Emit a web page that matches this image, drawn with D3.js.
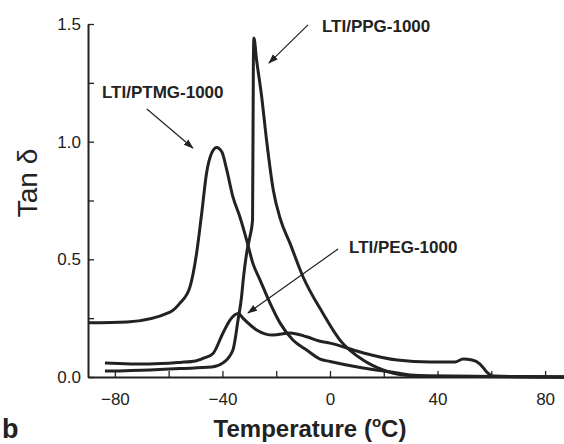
<!DOCTYPE html>
<html>
<head>
<meta charset="utf-8">
<script src="https://cdn.jsdelivr.net/npm/d3@7"></script>
<style>
  body { margin: 0; background: #fff; }
  svg { display: block; font-family: "Liberation Sans", Arial, sans-serif; }
  .axis path, .axis line { stroke: #222; }
  .axis text { fill: #222; font-size: 17px; }
</style>
</head>
<body>
<svg id="chart" width="564" height="444"></svg>
<script>
// temperature (°C) and tan delta
const ptmgT = [-89.7, -75.5, -59.5, -55.8, -52.1, -49.6, -47.7, -45.9, -44.3, -42.2, -40.2, -38.4, -36.1, -33.5, -31, -28.7, -26, -22.3, -18.6, -13.8, -8.7, -3.7, 0, 12.3, 25, 29.8, 37, 87];
const ptmgV = [0.23, 0.234, 0.276, 0.314, 0.382, 0.527, 0.697, 0.867, 0.943, 0.975, 0.956, 0.88, 0.765, 0.68, 0.582, 0.484, 0.412, 0.314, 0.23, 0.157, 0.115, 0.076, 0.066, 0.038, 0.017, 0.008, 0.004, 0];

const ppgT = [-83.7, -67, -55.8, -44, -39.8, -36.1, -34.2, -32.9, -32.3, -30.8, -29.8, -28.8, -28.5, -28.3, -27.3, -25.4, -23.6, -21.1, -18.6, -14.9, -10, -2.6, 3.7, 12.3, 19.7, 27.2, 33.5, 87];
const ppgV = [0.025, 0.03, 0.036, 0.042, 0.06, 0.115, 0.242, 0.34, 0.41, 0.54, 0.595, 0.667, 1.334, 1.44, 1.347, 1.19, 1.007, 0.795, 0.676, 0.569, 0.425, 0.27, 0.157, 0.072, 0.03, 0.008, 0.004, 0];

const pegT = [-83.7, -67, -55.8, -50, -46.5, -43.5, -39.8, -37.2, -34.1, -32.4, -27.3, -21.2, -14.9, -8.7, -3.7, 0, 11.2, 25, 37.2, 46.5, 49.5, 52.8, 55.8, 58.4, 60.7, 87];
const pegV = [0.06, 0.055, 0.062, 0.068, 0.082, 0.1, 0.187, 0.242, 0.27, 0.25, 0.2, 0.178, 0.187, 0.171, 0.152, 0.144, 0.106, 0.072, 0.064, 0.064, 0.076, 0.072, 0.055, 0.02, 0.004, 0];

const xTicks = [-80, -60, -40, -20, 0, 20, 40, 60, 80];
const xLabels = [-80, -40, 0, 40, 80];
const yTicks = [0, 0.25, 0.5, 0.75, 1.0, 1.25, 1.5];
const yLabels = [0, 0.5, 1.0, 1.5];

const seriesNames = ["LTI/PTMG-1000", "LTI/PPG-1000", "LTI/PEG-1000"];

const series = [
    { name: seriesNames[0], t: ptmgT, v: ptmgV },
    { name: seriesNames[1], t: ppgT, v: ppgV },
    { name: seriesNames[2], t: pegT, v: pegV }
].map(s => ({ name: s.name, points: s.t.map((t, i) => ({ x: t, y: s.v[i] })) }));

// label anchor + arrow (from, to) in data units
const notes = [
    { name: seriesNames[1], label: [-3.0, 1.466], from: [-8.2, 1.496], to: [-22.7, 1.334] },
    { name: seriesNames[0], label: [-84.8, 1.186], from: [-68.1, 1.139], to: [-51, 0.973] },
    { name: seriesNames[2], label: [7.1, 0.527], from: [3.0, 0.544], to: [-30.5, 0.272] }
];

const svg = d3.select("#chart");
const ink = "#222";

const x = d3.scaleLinear().domain([-90, 90]).range([88, 572]);
const y = d3.scaleLinear().domain([0, 1.5]).range([377, 24]);

// axes, ticks pointing inward
svg.append("g")
    .attr("class", "axis x")
    .attr("transform", `translate(0,${y(0)})`)
    .call(d3.axisBottom(x)
        .tickValues(xTicks)
        .tickSizeInner(-6)
        .tickSizeOuter(0)
        .tickPadding(16)
        .tickFormat(d => xLabels.includes(d) ? d3.format("d")(d) : ""))
    .call(g => g.select(".domain").attr("stroke-width", 2))
    .call(g => g.selectAll(".tick line").attr("stroke-width", 1.3));

svg.append("g")
    .attr("class", "axis y")
    .attr("transform", `translate(${x(-90)},0)`)
    .call(d3.axisLeft(y)
        .tickValues(yTicks)
        .tickSizeInner(-6)
        .tickSizeOuter(0)
        .tickPadding(7)
        .tickFormat(d => yLabels.includes(d) ? d3.format(".1f")(d) : ""))
    .call(g => g.select(".domain").attr("stroke-width", 2))
    .call(g => g.selectAll(".tick line").attr("stroke-width", 1.3));

// curves
const line = d3.line()
    .x(d => x(d.x))
    .y(d => y(d.y))
    .curve(d3.curveMonotoneX);

svg.append("g")
    .selectAll("path")
    .data(series)
    .join("path")
    .attr("fill", "none")
    .attr("stroke", ink)
    .attr("stroke-width", 3)
    .attr("stroke-linejoin", "round")
    .attr("d", d => line(d.points));

// arrows + labels
svg.append("defs").append("marker")
    .attr("id", "head")
    .attr("viewBox", "0 0 10 10")
    .attr("refX", 9).attr("refY", 5)
    .attr("markerWidth", 10).attr("markerHeight", 10)
    .attr("markerUnits", "userSpaceOnUse")
    .attr("orient", "auto")
    .append("path")
    .attr("d", "M0,1.5L10,5L0,8.5Z")
    .attr("fill", ink);

const ann = svg.append("g");
ann.selectAll("line")
    .data(notes)
    .join("line")
    .attr("x1", d => x(d.from[0])).attr("y1", d => y(d.from[1]))
    .attr("x2", d => x(d.to[0])).attr("y2", d => y(d.to[1]))
    .attr("stroke", ink)
    .attr("stroke-width", 1.2)
    .attr("marker-end", "url(#head)");

ann.selectAll("text")
    .data(notes)
    .join("text")
    .attr("x", d => x(d.label[0]))
    .attr("y", d => y(d.label[1]))
    .attr("font-size", 17)
    .attr("font-weight", "bold")
    .attr("fill", ink)
    .text(d => d.name);

// axis titles
svg.append("text")
    .attr("transform", `translate(37,183)rotate(-90)`)
    .attr("text-anchor", "middle")
    .attr("font-size", 28)
    .attr("fill", ink)
    .text("Tan δ");

const xt = svg.append("text")
    .attr("x", 310)
    .attr("y", 437)
    .attr("text-anchor", "middle")
    .attr("font-size", 24)
    .attr("font-weight", "bold")
    .attr("fill", ink);
xt.append("tspan").text("Temperature (");
xt.append("tspan").attr("font-size", 15).attr("dy", -10).text("o");
xt.append("tspan").attr("dy", 10).text("C)");

svg.append("text")
    .attr("x", 2)
    .attr("y", 438)
    .attr("font-size", 27)
    .attr("font-weight", "bold")
    .attr("fill", ink)
    .text("b");
</script>
</body>
</html>
